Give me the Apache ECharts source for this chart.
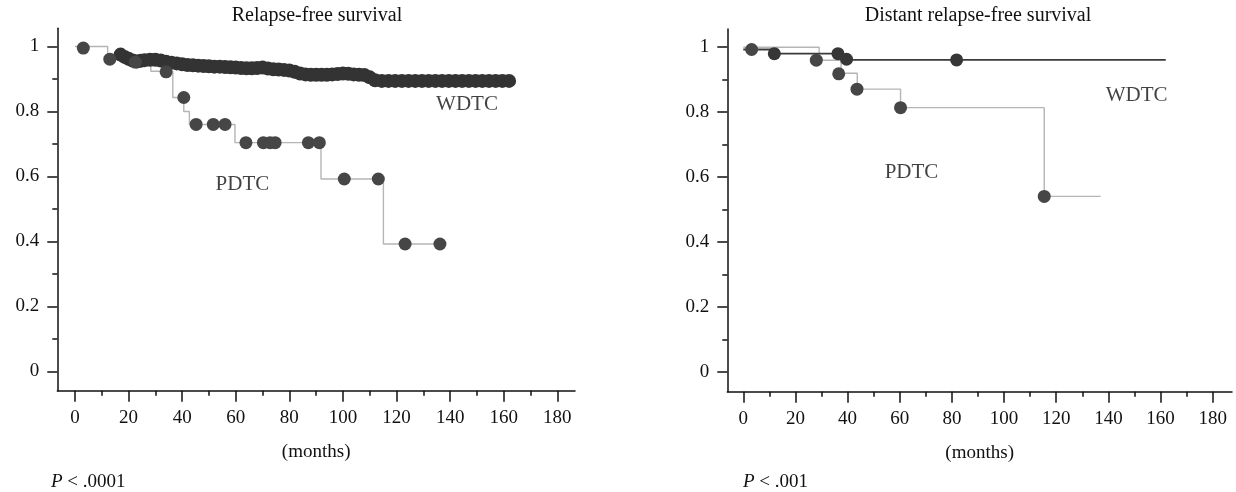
<!DOCTYPE html>
<html>
<head>
<meta charset="utf-8">
<script src="https://cdn.jsdelivr.net/npm/echarts@6/dist/echarts.min.js"></script>
<style>
  html, body { margin: 0; padding: 0; background: #ffffff; }
  #chart { width: 1236px; height: 492px; }
</style>
</head>
<body>
<div id="chart"></div>
<script>
// ---------------- data ----------------
const xMajorTicks = [0, 20, 40, 60, 80, 100, 120, 140, 160, 180];
const xMinorTicks = [10, 30, 50, 70, 90, 110, 130, 150, 170];
const yMajorTicks = [0, 0.2, 0.4, 0.6, 0.8, 1];
const yMinorTicks = [0.1, 0.3, 0.5, 0.7, 0.9];

// Relapse-free survival (left)
const rfsPdtcStepT = [0, 12.2, 28.3, 36.5, 40.6, 42.7, 59.7, 91.8, 115.1, 136.2];
const rfsPdtcStepS = [1, 0.96, 0.924, 0.843, 0.8, 0.76, 0.704, 0.592, 0.392, 0.392];
const rfsPdtcCensT = [3.1, 13, 22.5, 34, 40.6, 45.2, 51.6, 56, 63.8, 70.3, 72.8, 74.7, 87.1, 91.2, 100.5, 113.2, 123.2, 136.2];
const rfsPdtcCensS = [0.995, 0.961, 0.952, 0.922, 0.843, 0.76, 0.76, 0.76, 0.704, 0.704, 0.704, 0.704, 0.704, 0.704, 0.592, 0.592, 0.392, 0.392];

const rfsWdtcT = [17, 18.5, 20, 21.5, 23, 24.5, 26, 28, 30, 32, 34, 36, 38, 40, 42, 44, 46, 48, 50, 52, 54, 56, 58, 60, 62, 64, 66, 68, 70, 72, 74, 76, 78, 80, 82, 84, 86, 88, 90, 92, 94, 96, 98, 100, 102, 104, 106, 108, 110, 112, 114.5, 117, 119.5, 122, 124.5, 127, 129.5, 132, 134.5, 137, 139.5, 142, 144.5, 147, 149.5, 152, 154.5, 157, 159.5, 162];
const rfsWdtcS = [0.975, 0.968, 0.962, 0.957, 0.954, 0.956, 0.958, 0.959, 0.959, 0.957, 0.953, 0.95, 0.948, 0.945, 0.943, 0.942, 0.941, 0.94, 0.939, 0.938, 0.938, 0.937, 0.936, 0.935, 0.934, 0.933, 0.933, 0.934, 0.935, 0.932, 0.93, 0.929, 0.928, 0.926, 0.922, 0.917, 0.914, 0.913, 0.913, 0.913, 0.913, 0.914, 0.915, 0.917, 0.916, 0.914, 0.913, 0.912, 0.905, 0.896, 0.894, 0.894, 0.894, 0.894, 0.894, 0.894, 0.894, 0.894, 0.894, 0.894, 0.894, 0.894, 0.894, 0.894, 0.894, 0.894, 0.894, 0.894, 0.894, 0.894];

// Distant relapse-free survival (right)
const drfsPdtcStepT = [0, 29.1, 37.5, 43.7, 60.3, 115.4, 137];
const drfsPdtcStepS = [1, 0.96, 0.92, 0.871, 0.814, 0.541, 0.541];
const drfsPdtcCensT = [3.2, 28, 36.6, 43.6, 60.3, 115.4];
const drfsPdtcCensS = [0.993, 0.96, 0.918, 0.871, 0.814, 0.541];
const drfsWdtcStepT = [0, 11.9, 38, 162];
const drfsWdtcStepS = [0.993, 0.98, 0.961, 0.961];
const drfsWdtcCensT = [11.9, 36.3, 39.6, 81.8];
const drfsWdtcCensS = [0.98, 0.98, 0.963, 0.961];

// group label anchors (months, survival)
const rfsLabels = [{ name: 'PDTC', t: 62.5, s: 0.574 }, { name: 'WDTC', t: 146.3, s: 0.82 }];
const drfsLabels = [{ name: 'PDTC', t: 64.5, s: 0.616 }, { name: 'WDTC', t: 150.8, s: 0.852 }];

// ---------------- chart ----------------
const FONT = 'Liberation Serif';
const INK = '#111111';
const zip = (a, b) => a.map((v, i) => [v, b[i]]);

function axesFor(g, xmin, xmax) {
  const common = { gridIndex: g, type: 'value', splitLine: { show: false } };
  const xs = [
    Object.assign({}, common, {
      min: xmin, max: xmax, position: 'bottom',
      axisLine: { show: true, onZero: false, lineStyle: { color: INK, width: 1.5 } },
      axisTick: { show: true, length: 11, customValues: xMajorTicks, lineStyle: { color: INK, width: 1.5 } },
      axisLabel: { show: true, customValues: xMajorTicks, margin: 18, fontFamily: FONT, fontSize: 19, color: INK },
      name: '(months)', nameLocation: 'middle', nameGap: 52,
      nameTextStyle: { fontFamily: FONT, fontSize: 19, color: INK }
    }),
    Object.assign({}, common, {
      min: xmin, max: xmax, position: 'bottom',
      axisLine: { show: false, onZero: false },
      axisTick: { show: true, length: 5, customValues: xMinorTicks, lineStyle: { color: INK, width: 1.5 } },
      axisLabel: { show: false }
    })
  ];
  const ys = [
    Object.assign({}, common, {
      min: -0.06, max: 1.056, position: 'left',
      axisLine: { show: true, onZero: false, lineStyle: { color: INK, width: 1.5 } },
      axisTick: { show: true, length: 10, customValues: yMajorTicks, lineStyle: { color: INK, width: 1.5 } },
      axisLabel: { show: true, customValues: yMajorTicks, margin: 18, fontFamily: FONT, fontSize: 19, color: INK }
    }),
    Object.assign({}, common, {
      min: -0.06, max: 1.056, position: 'left',
      axisLine: { show: false, onZero: false },
      axisTick: { show: true, length: 5, customValues: yMinorTicks, lineStyle: { color: INK, width: 1.5 } },
      axisLabel: { show: false }
    })
  ];
  return { xs, ys };
}

const A0 = axesFor(0, -6.6, 186.6);
const A1 = axesFor(1, -6.13, 187.4);

function stepLine(xi, yi, data, color, width, z) {
  return { type: 'line', xAxisIndex: xi, yAxisIndex: yi, data, step: 'end', symbol: 'none',
    lineStyle: { color, width }, silent: true, z, animation: false };
}
function dots(xi, yi, data, color, z, size) {
  return { type: 'scatter', xAxisIndex: xi, yAxisIndex: yi, data, symbol: 'circle', symbolSize: size || 13,
    itemStyle: { color, opacity: 1 }, silent: true, z, animation: false };
}
function labels(xi, yi, arr) {
  return { type: 'scatter', xAxisIndex: xi, yAxisIndex: yi, symbolSize: 0, silent: true, z: 10,
    data: arr.map(d => ({ value: [d.t, d.s], name: d.name })),
    label: { show: true, position: 'inside', formatter: p => p.name, fontFamily: FONT, fontSize: 21, color: INK } };
}

const option = {
  backgroundColor: '#ffffff',
  animation: false,
  grid: [
    { left: 57.3, top: 28.3, width: 517.7, height: 362.5, outerBoundsMode: 'none', containLabel: false },
    { left: 727.3, top: 29, width: 504.7, height: 362.7, outerBoundsMode: 'none', containLabel: false }
  ],
  xAxis: [A0.xs[0], A0.xs[1], A1.xs[0], A1.xs[1]],
  yAxis: [A0.ys[0], A0.ys[1], A1.ys[0], A1.ys[1]],
  series: [
    stepLine(0, 0, zip(rfsPdtcStepT, rfsPdtcStepS), '#b5b5b5', 1.4, 2),
    dots(0, 0, zip(rfsWdtcT, rfsWdtcS), '#333333', 4, 14),
    dots(0, 0, zip(rfsPdtcCensT, rfsPdtcCensS), '#464646', 5, 13),
    labels(0, 0, rfsLabels),

    stepLine(2, 2, zip(drfsPdtcStepT, drfsPdtcStepS), '#b5b5b5', 1.4, 2),
    stepLine(2, 2, zip(drfsWdtcStepT, drfsWdtcStepS), '#3a3a3a', 1.8, 3),
    dots(2, 2, zip(drfsWdtcCensT, drfsWdtcCensS), '#363636', 4, 13),
    dots(2, 2, zip(drfsPdtcCensT, drfsPdtcCensS), '#464646', 5, 13),
    labels(2, 2, drfsLabels)
  ],
  graphic: [
    { type: 'text', x: 317, y: 16, style: { text: 'Relapse-free survival', textAlign: 'center', textVerticalAlign: 'middle', fontFamily: FONT, fontSize: 20, fill: INK } },
    { type: 'text', x: 978, y: 16, style: { text: 'Distant relapse-free survival', textAlign: 'center', textVerticalAlign: 'middle', fontFamily: FONT, fontSize: 20, fill: INK } },
    { type: 'text', x: 51, y: 482, style: { text: '{i|P} < .0001', textAlign: 'left', textVerticalAlign: 'middle', fontFamily: FONT, fontSize: 19, fill: INK,
        rich: { i: { fontStyle: 'italic', fontFamily: FONT, fontSize: 19, fill: INK } } } },
    { type: 'text', x: 743, y: 482, style: { text: '{i|P} < .001', textAlign: 'left', textVerticalAlign: 'middle', fontFamily: FONT, fontSize: 19, fill: INK,
        rich: { i: { fontStyle: 'italic', fontFamily: FONT, fontSize: 19, fill: INK } } } }
  ]
};

const chart = echarts.init(document.getElementById('chart'), null, { renderer: 'canvas' });
chart.setOption(option);
</script>
</body>
</html>
